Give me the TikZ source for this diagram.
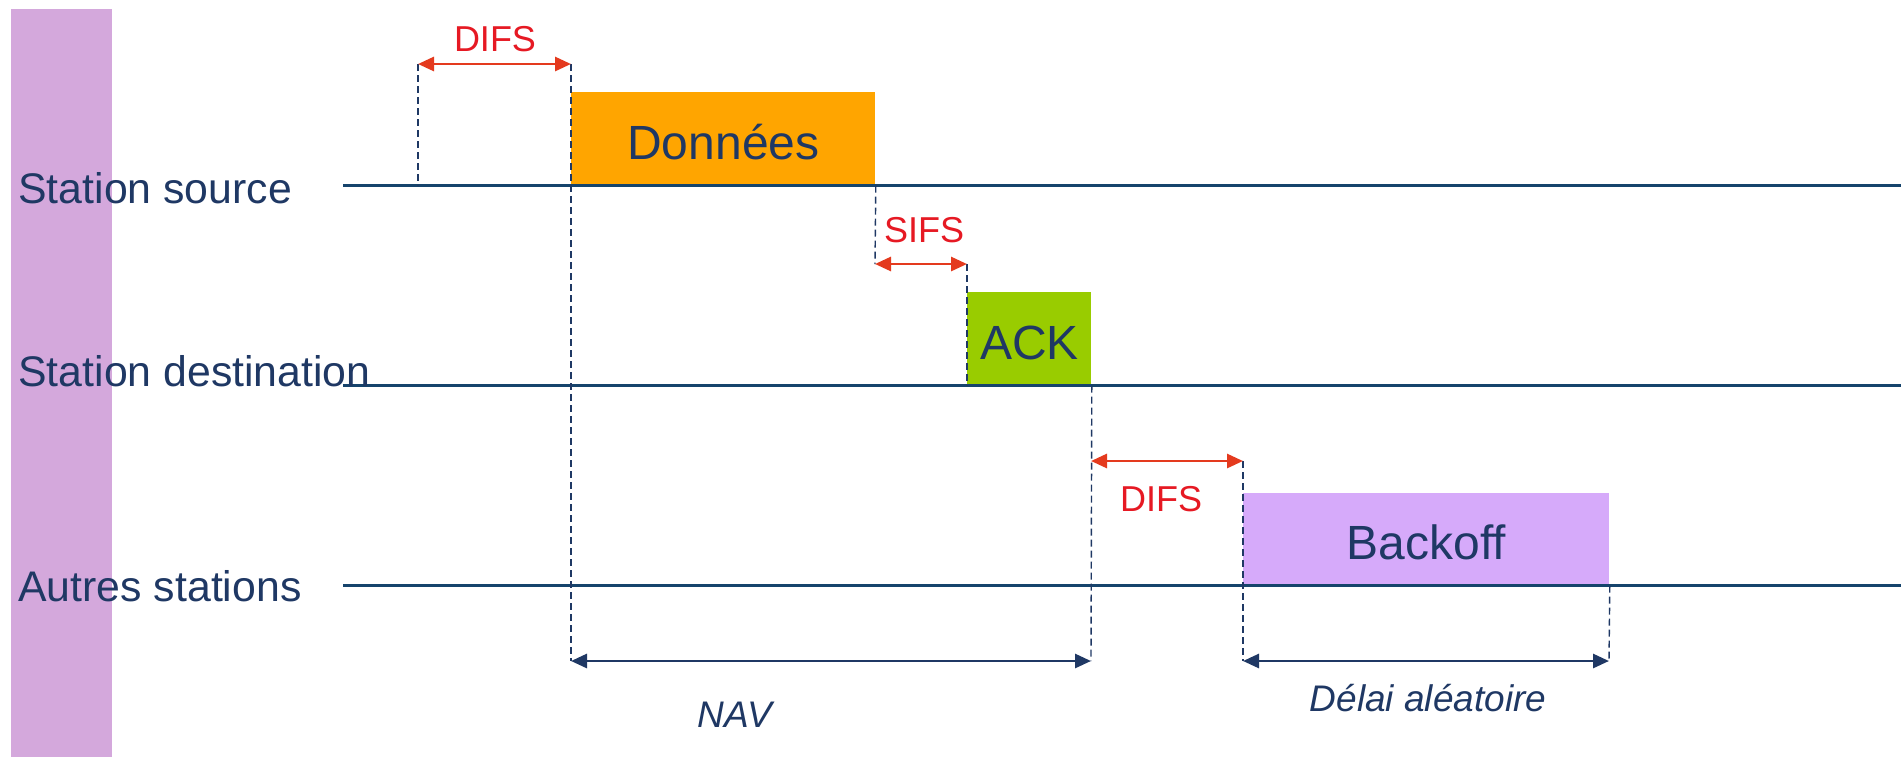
\documentclass[tikz,border=0pt]{standalone}
\usepackage{fontspec}
\setmainfont{Liberation Sans}
\usetikzlibrary{arrows.meta}
\definecolor{barpurple}{RGB}{212,168,220}
\definecolor{navy}{RGB}{31,56,100}
\definecolor{tline}{RGB}{22,68,108}
\definecolor{gapred}{RGB}{228,58,30}
\definecolor{labelred}{RGB}{230,25,35}
\definecolor{dataorange}{RGB}{255,165,0}
\definecolor{ackgreen}{RGB}{153,204,0}
\definecolor{backofflilac}{RGB}{214,170,250}

\begin{document}
\begin{tikzpicture}[x=0.5pt,y=-0.5pt,
  stationlabel/.style={anchor=base west, inner sep=0pt, text=navy, font=\fontsize{21.4}{24}\selectfont},
  timeline/.style={draw=tline, line width=1.6pt},
  frame/.style={anchor=south west, inner sep=0pt, minimum height=46.75pt, text height=21pt, text depth=0pt, text=navy, font=\fontsize{24}{28}\selectfont},
  guide/.style={draw=navy, line width=0.7pt, dash pattern=on 3.5pt off 2pt},
  gap/.style={draw=gapred, line width=1.4pt, {Triangle[length=8pt,width=7pt]}-{Triangle[length=8pt,width=7pt]}},
  gaplabel/.style={anchor=base, inner sep=0pt, text=labelred, font=\fontsize{18}{20}\selectfont},
  span/.style={draw=navy, line width=1.4pt, {Triangle[length=8pt,width=7pt]}-{Triangle[length=8pt,width=7pt]}},
  spanlabel/.style={anchor=base, inner sep=0pt, text=navy, font=\fontsize{18.5}{20}\selectfont\itshape}
]
% canvas
\useasboundingbox (0,0) rectangle (1901,757);
\fill[white] (0,0) rectangle (1901,757);
\fill[barpurple] (11,9) rectangle (112,757);

% frames on the three time axes
\node[frame, fill=dataorange, minimum width=152pt] (data) at (571,185.5) {Données};
\node[frame, fill=ackgreen, minimum width=62pt] (ack) at (967,385.5) {ACK};
\node[frame, fill=backofflilac, minimum width=183pt, minimum height=46.3pt] (backoff) at (1243,585.5) {Backoff};

% time axes
\coordinate (srcL) at (343,185.5);   \coordinate (srcR) at (1901,185.5);
\coordinate (dstL) at (343,385.5);   \coordinate (dstR) at (1901,385.5);
\coordinate (othL) at (343,585.5);   \coordinate (othR) at (1901,585.5);
\draw[timeline] (srcL) -- (srcR);
\draw[timeline] (dstL) -- (dstR);
\draw[timeline] (othL) -- (othR);

% station names
\node[stationlabel] (src) at (18,203.5) {Station source};
\node[stationlabel] (dst) at (18,386.5) {Station destination};
\node[stationlabel] (oth) at (18,601.5) {Autres stations};

% interval marks
\coordinate (difsA) at (418,64);    \coordinate (difsB) at (571,64);
\coordinate (sifsA) at (875,264);   \coordinate (sifsB) at (967,264);
\coordinate (difs2A) at (1091,461); \coordinate (difs2B) at (1243,461);
\coordinate (navA) at (571,661);    \coordinate (navB) at (1091,661);
\coordinate (rndA) at (1243,661);   \coordinate (rndB) at (1609,661);
\coordinate (difsFoot) at (418,185.5);

% dashed guides
\draw[guide] (difsA) -- (difsFoot);
\draw[guide] (difsB) -- (navA);
\draw[guide] (data.south east) -- (sifsA);
\draw[guide] (sifsB) -- (ack.south west);
\draw[guide] (ack.south east) -- (navB);
\draw[guide] (difs2B) -- (rndA);
\draw[guide] (backoff.south east) -- (rndB);

% inter-frame spaces
\draw[gap] (difsA) -- (difsB);
\draw[gap] (sifsA) -- (sifsB);
\draw[gap] (difs2A) -- (difs2B);
\node[gaplabel] (difs) at (495,51) {DIFS};
\node[gaplabel] (sifs) at (924,242.5) {SIFS};
\node[gaplabel] (difs2) at (1161,511.5) {DIFS};

% durations
\draw[span] (navA) -- (navB);
\draw[span] (rndA) -- (rndB);
\node[spanlabel] (nav) at (735,727.5) {NAV};
\node[spanlabel] (rnd) at (1428,711.5) {Délai aléatoire};
\end{tikzpicture}
\end{document}
